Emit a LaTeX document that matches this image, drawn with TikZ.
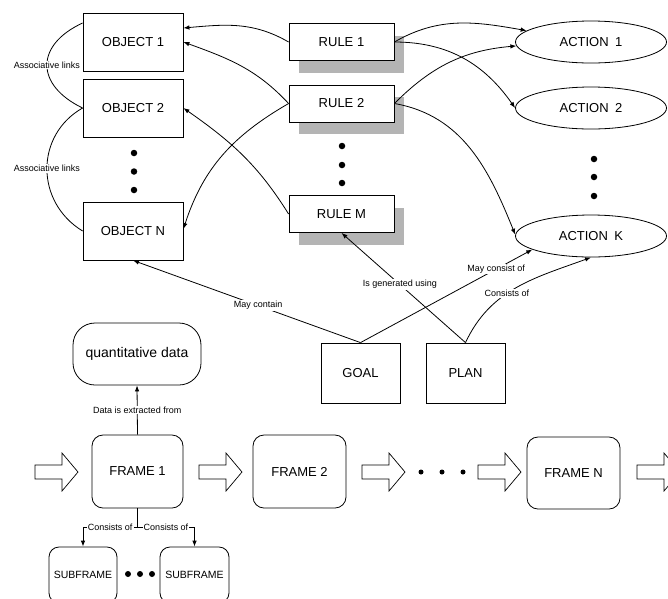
\documentclass[tikz,border=0pt]{standalone}
\usepackage{fontspec}
\setmainfont{Liberation Sans}
\usetikzlibrary{arrows.meta,shapes.geometric,calc,shadows}
\definecolor{shadowgray}{HTML}{B4B4B4}
\begin{document}
\begin{tikzpicture}[x=1pt,y=1pt,line width=0.8pt,
  big/.style={font=\fontsize{13}{15}\selectfont},
  obox/.style={draw,fill=white,inner sep=0,big,minimum width=100,minimum height=58},
  rbox/.style={draw,fill=white,inner sep=0,big,minimum width=105,minimum height=37,
     drop shadow={shadow xshift=10pt,shadow yshift=-12pt,fill=shadowgray,opacity=1}},
  abox/.style={draw,fill=white,ellipse,inner sep=0,big,minimum width=151,minimum height=42},
  gbox/.style={draw,fill=white,inner sep=0,big,minimum width=79,minimum height=60},
  fbox/.style={draw,fill=white,inner sep=0,big,rounded corners=11,minimum height=73},
  sbox/.style={draw,fill=white,inner sep=0,font=\fontsize{10.5}{12}\selectfont,rounded corners=10,minimum width=68,minimum height=56},
  lbl/.style={fill=white,inner sep=1pt,font=\fontsize{9}{10}\selectfont},
  arr/.style={-{Latex[length=6pt,width=4.5pt]}},
  dotn/.style={circle,fill,inner sep=0,minimum size=6.5},
  sdot/.style={circle,fill,inner sep=0,minimum size=5},
  blk/.style={draw,fill=white,line width=0.7pt}]
\useasboundingbox (0,0) rectangle (668,-598);
\clip (0,0) rectangle (668,-598);

% objects
\node[obox] (obj1) at (133,-42) {OBJECT 1};
\node[obox] (obj2) at (133,-108) {OBJECT 2};
\node[obox] (objN) at (133,-231) {OBJECT N};
\node[dotn] (od1) at (134,-153) {};
\node[dotn] (od2) at (134,-171.5) {};
\node[dotn] (od3) at (134,-190) {};

% rules
\node[rbox] (rule1) at (341.5,-42) {RULE 1};
\node[rbox] (rule2) at (341.5,-103.5) {RULE 2};
\node[rbox] (ruleM) at (341.5,-214) {RULE M};
\node[dotn] (rd1) at (342,-146) {};
\node[dotn] (rd2) at (342,-165) {};
\node[dotn] (rd3) at (342,-183) {};

% actions
\node[abox] (act1) at (591,-42) {ACTION\hspace{0.5em}1};
\node[abox] (act2) at (591,-108) {ACTION\hspace{0.5em}2};
\node[abox] (actK) at (591,-236) {ACTION\hspace{0.5em}K};
\node[dotn] (ad1) at (594,-159) {};
\node[dotn] (ad2) at (594,-177) {};
\node[dotn] (ad3) at (594,-196) {};

% goal / plan
\node[gbox] (goal) at (360.5,-373) {GOAL};
\node[gbox] (plan) at (465.5,-373) {PLAN};

% associative links
\draw ($(obj1.west)+(0,19)$) .. controls (35,-45) and (35,-85) .. node[lbl]{Associative links} (obj2.west);
\draw (obj2.west) .. controls (35,-135) and (35,-202) .. node[lbl]{Associative links} (objN.west);

% rule -> object
\draw[arr] (rule1.west) to[out=150,in=5] ($(obj1.east)+(0,14)$);
\draw[arr] (rule2.west) to[out=133,in=-20] (obj1.east);
\draw[arr] (ruleM.west) to[out=122,in=-35] (obj2.east);
\draw[arr] (rule2.west) to[out=210,in=72] ($(objN.east)+(0,2)$);

% rule -> action
\draw[arr] (rule1.east) to[out=30,in=170] (act1.170);
\draw[arr] (rule2.east) to[out=45,in=185] (act1.183);
\draw[arr] (rule1.east) to[out=0,in=125] (act2.west);
\draw[arr] (rule2.east) to[out=-10,in=112] (actK.179);

% goal / plan connectors
\draw[arr] (goal.north) -- node[lbl,pos=0.45]{May contain} (objN.south);
\draw[arr] (goal.north) -- node[lbl,pos=0.79]{May consist of} (actK.193);
\draw[arr] (plan.north) -- node[lbl,pos=0.53]{Is generated using} (ruleM.south);
\draw[arr] (plan.north) to[out=65,in=200] node[lbl,pos=0.42]{Consists of} (actK.south);

% frames
\node[draw,fill=white,inner sep=0,font=\fontsize{14}{16}\selectfont,rounded corners=22,minimum width=128,minimum height=62] (quant) at (137,-354) {quantitative data};
\node[fbox,minimum width=91] (frame1) at (137.5,-471.5) {FRAME 1};
\node[fbox,minimum width=93] (frame2) at (299.5,-471.5) {FRAME 2};
\node[fbox,minimum width=93,minimum height=72] (frameN) at (573.5,-473) {FRAME N};
\node[sbox] (sub1) at (83,-575) {SUBFRAME};
\node[sbox,minimum width=69] (sub2) at (194.5,-575) {SUBFRAME};
\node[sdot] (fd1) at (421,-472) {};
\node[sdot] (fd2) at (442,-472) {};
\node[sdot] (fd3) at (463,-472) {};
\node[dotn,minimum size=6] (sd1) at (128,-574) {};
\node[dotn,minimum size=6] (sd2) at (140,-574) {};
\node[dotn,minimum size=6] (sd3) at (152,-574) {};

\draw[arr] (frame1.north) -- node[lbl]{Data is extracted from} (quant.south);
\coordinate (fj) at ($(frame1.south)+(0,-19)$);
\draw (frame1.south) -- (fj);
\draw[arr] (fj) -| node[lbl,pos=0.25]{Consists of} (sub1.north);
\draw[arr] (fj) -| node[lbl,pos=0.25]{Consists of} (sub2.north);

% block arrows
\foreach \xa [evaluate=\xa as \xb using \xa+27, evaluate=\xa as \xc using \xa+43] in {35,199,362,478,637}{
  \draw[blk] (\xa,-465) -- (\xb,-465) -- (\xb,-453) -- (\xc,-472) -- (\xb,-491) -- (\xb,-479) -- (\xa,-479) -- cycle;
}
\end{tikzpicture}
\end{document}
